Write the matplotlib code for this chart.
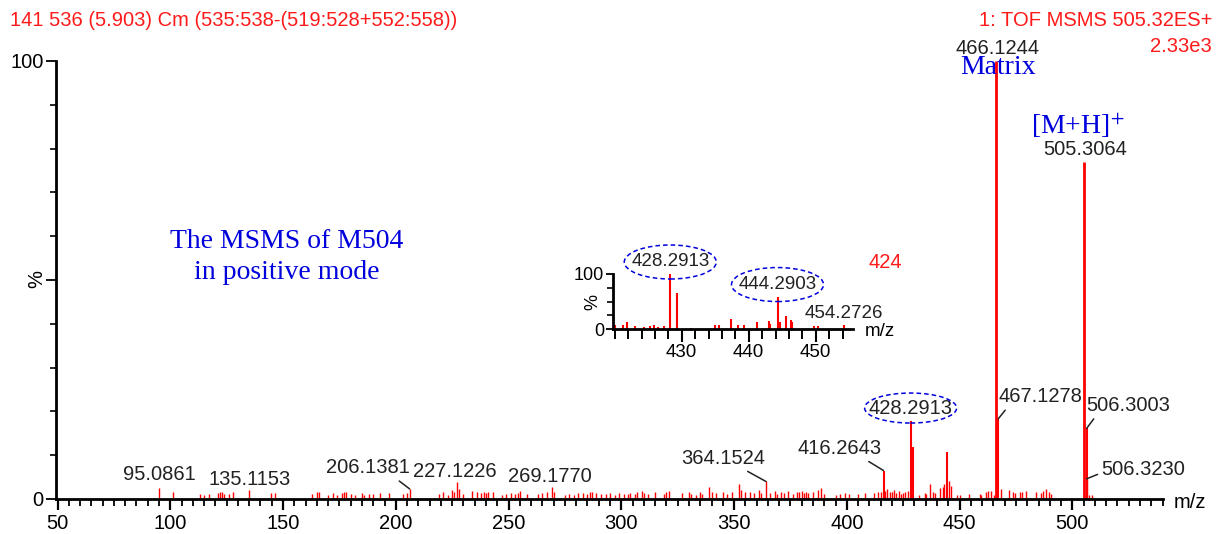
import matplotlib
matplotlib.use('Agg')
import matplotlib.pyplot as plt
from matplotlib.patches import Ellipse
from matplotlib.ticker import MultipleLocator, FixedLocator
from matplotlib.transforms import IdentityTransform

plt.rcParams['font.family'] = ['Liberation Sans', 'DejaVu Sans']

# ---------------- data ----------------
peak_mz = [95.0861, 101, 113, 115, 117, 121, 122, 123, 124, 126, 128, 135.1153, 144.5, 146.5,
           163, 165, 166, 170, 172, 174, 176, 177, 178, 180, 182, 185, 186, 188, 190, 193, 197,
           203, 205, 206.1381,
           219, 221, 223, 225, 226, 227.1226, 228, 230, 234, 236, 238, 239, 240, 241, 243, 247,
           249, 251, 253, 254, 255, 258, 263, 265, 267, 269.1770, 270, 275, 277, 279, 281, 283,
           285, 286, 287, 289, 291, 293, 295, 297, 299,
           301, 303, 304, 306, 307, 309, 310, 312, 315, 319, 320, 321, 327, 330, 331, 333, 335,
           336, 338.7, 340, 342, 345, 347, 349, 352, 353, 355, 357, 359, 361, 362, 364.1524,
           366, 368, 369, 371, 372, 374, 376, 378, 379, 380, 381, 382, 383, 385, 387, 388.5,
           390, 395, 397, 399, 401, 405, 408, 412, 414, 415, 416.2643, 417, 418, 419, 420, 421,
           422, 423, 424, 425, 426, 427, 428.2913, 429.29,
           432, 434.5, 435.2, 437.1, 438, 439.3, 441.1, 442.6, 443.3, 444.2903, 445.3, 446.4,
           449, 450, 454.27, 458.9, 459.6, 461.8, 462.8, 463.8, 465.4, 466.1244, 467.1278,
           468.5, 472, 473.5, 474.7, 476.6, 477.8, 479.6, 484, 486, 487, 488.5, 489.5, 490.7,
           505.3064, 506.3003, 506.3230, 507.4, 508.9]
peak_int = [2.6, 1.5, 1.1, 1.0, 1.1, 1.3, 1.6, 1.5, 1.2, 1.2, 1.5, 2.0, 1.4, 1.4,
            1.1, 1.5, 1.6, 1.0, 1.3, 1.0, 1.3, 1.6, 1.5, 1.2, 0.8, 1.3, 1.0, 1.1, 1.2, 1.3, 1.4,
            1.1, 1.3, 2.3,
            1.2, 1.5, 1.0, 2.0, 1.6, 3.8, 2.2, 1.2, 1.8, 1.5, 1.4, 1.6, 1.3, 1.6, 1.7, 1.0,
            1.2, 1.4, 1.1, 1.4, 1.8, 1.2, 1.2, 1.3, 1.5, 2.7, 1.5, 1.0, 1.1, 1.0, 1.3, 1.4,
            1.2, 1.5, 1.6, 1.3, 1.2, 1.1, 1.4, 1.0, 1.3,
            1.2, 1.1, 1.3, 1.2, 1.5, 1.8, 1.3, 1.2, 1.6, 1.2, 1.7, 1.9, 1.4, 1.5, 1.2, 1.0, 1.7,
            1.2, 2.7, 1.5, 1.3, 1.5, 1.2, 1.6, 3.5, 2.0, 1.5, 1.7, 1.3, 2.0, 1.4, 4.0,
            1.4, 1.9, 1.2, 1.6, 1.3, 1.8, 1.2, 1.5, 1.7, 1.9, 1.4, 1.6, 1.3, 1.5, 2.0, 2.5,
            1.2, 1.0, 1.2, 1.4, 1.1, 1.2, 1.3, 1.4, 1.5, 1.5, 6.5, 1.8, 2.2, 1.6, 1.5, 2.0,
            1.4, 1.8, 1.2, 1.4, 1.7, 1.8, 17.8, 11.8,
            0.8, 1.4, 1.2, 3.4, 1.5, 1.4, 2.4, 2.7, 3.4, 10.8, 4.2, 3.0,
            1.0, 0.9, 1.2, 1.2, 0.9, 1.6, 1.9, 1.9, 1.0, 100.0, 18.3,
            2.3, 2.1, 1.5, 1.4, 1.5, 1.5, 1.9, 1.5, 1.4, 1.9, 2.3, 1.5, 1.2,
            77.0, 16.1, 4.6, 1.0, 0.8]

label_mz = [95.0861, 135.1153, 206.1381, 227.1226, 269.1770, 364.1524, 416.2643,
            428.2913, 466.1244, 467.1278, 505.3064, 506.3003, 506.3230]

inset_mz = [420.1, 421.3, 421.8, 423.1, 424.3, 425.2, 425.9, 426.5, 427.4, 428.2913, 429.3,
            431.4, 435.0, 435.5, 437.3, 438.4, 439.3, 441.2, 443.0, 443.2, 444.2903, 444.6,
            445.6, 446.3, 446.5, 449.7, 450.3, 454.2726]
inset_int = [8, 8, 12, 5, 3, 5, 8, 3, 6, 100, 65,
             2, 8, 8, 19, 8, 7, 12, 14, 10, 59, 12,
             24, 16, 12, 6, 6, 7]
inset_label_mz = [428.2913, 444.2903, 454.2726]

x_ticks = [50, 100, 150, 200, 250, 300, 350, 400, 450, 500]
inset_x_ticks = [430, 440, 450]

# ---------------- layout ----------------
W, H = 1216, 534
fig = plt.figure(figsize=(W / 100, H / 100), dpi=100)
RED = '#ff1a1a'
BLUE = '#0000dd'
FS = 14.5


def fig_box(l, t, r, b):
    return [l / W, 1 - b / H, (r - l) / W, (b - t) / H]


ax = fig.add_axes(fig_box(56, 61, 1163, 499))
ax.set_xlim(49.33, 540.2)
ax.set_ylim(0, 100)
lws = [2.0 if v > 50 else (1.5 if v > 5 else 1.0) for v in peak_int]
ax.vlines(peak_mz, 0, peak_int, colors='red', linewidths=lws, clip_on=False, zorder=2)

for s in ['top', 'right']:
    ax.spines[s].set_visible(False)
for s in ['left', 'bottom']:
    ax.spines[s].set_linewidth(2.0)
ax.xaxis.set_major_locator(FixedLocator(x_ticks))
ax.xaxis.set_minor_locator(MultipleLocator(5))
ax.yaxis.set_major_locator(FixedLocator([0, 50, 100]))
ax.yaxis.set_minor_locator(MultipleLocator(10))
ax.set_yticklabels(['0', '', '100'])
ax.tick_params(axis='x', which='major', direction='out', length=8, width=1.6,
               labelsize=FS, pad=3)
ax.tick_params(axis='x', which='minor', direction='out', length=5, width=1.3)
ax.tick_params(axis='y', which='major', direction='out', length=7, width=1.3,
               labelsize=FS, pad=2)
ax.tick_params(axis='y', which='minor', direction='out', length=4, width=1.2)
fig.text(37 / W, 1 - 279 / H, '%', rotation=90, ha='center', va='center', fontsize=FS)
fig.text(1190 / W, 1 - 503 / H, 'm/z', ha='center', va='center', fontsize=FS)

# label offsets in pixels (dx, dy) and optional leader relpos
label_layout = {
    95.0861: (0, 13, None),
    135.1153: (0, 11, None),
    206.1381: (-42, 21, (0.82, 0.0)),
    227.1226: (-2, 11, None),
    269.1770: (-2, 11, None),
    364.1524: (-43, 23, (0.72, 0.0)),
    416.2643: (-44, 22, (0.78, 0.0)),
    428.2913: (0, 13, None),
    466.1244: (2, 13, None),
    467.1278: (42, 22, (0.12, 0.0)),
    505.3064: (1, 12, None),
    506.3003: (42, 23, (0.12, 0.0)),
    506.3230: (57, 9, (0.0, 0.35)),
}
mz_to_int = dict(zip(peak_mz, peak_int))
for m in label_mz:
    dx, dy, rel = label_layout[m]
    h = mz_to_int[m]
    kw = {}
    if rel is not None:
        kw['arrowprops'] = dict(arrowstyle='-', color='#222222', lw=1.1, relpos=rel,
                                shrinkA=1, shrinkB=0)
    ax.annotate(f'{m:.4f}', xy=(m, h), xytext=(dx, dy), textcoords='offset pixels',
                ha='center', va='center', fontsize=FS, color='#222222',
                annotation_clip=False, **kw)

fig.canvas.draw()
# ellipse around main 428.2913 label
px, py = ax.transData.transform((428.2913, mz_to_int[428.2913]))
fig.add_artist(Ellipse((px, py + 13), 92, 30, transform=IdentityTransform(), fill=False,
                       ec=BLUE, lw=1.1, ls=(0, (3, 2))))

# ---------------- inset ----------------
axi = fig.add_axes(fig_box(612.7, 274, 853.3, 329))
axi.set_xlim(419.7, 455.6)
axi.set_ylim(0, 100)
axi.vlines(inset_mz, 0, inset_int, colors='red', linewidths=1.5, clip_on=False)
for s in ['top', 'right']:
    axi.spines[s].set_visible(False)
for s in ['left', 'bottom']:
    axi.spines[s].set_linewidth(2.0)
axi.xaxis.set_major_locator(FixedLocator(inset_x_ticks))
axi.xaxis.set_minor_locator(MultipleLocator(2))
axi.yaxis.set_major_locator(FixedLocator([0, 100]))
axi.yaxis.set_minor_locator(MultipleLocator(25))
axi.tick_params(axis='x', which='major', length=9, width=1.5, labelsize=13.5, pad=2)
axi.tick_params(axis='x', which='minor', length=7, width=1.4)
axi.tick_params(axis='y', which='major', length=5, width=1.3, labelsize=13, pad=1)
axi.tick_params(axis='y', which='minor', length=4, width=1.2)
fig.text(593 / W, 1 - 302 / H, '%', rotation=90, ha='center', va='center', fontsize=13)
fig.text(880 / W, 1 - 332 / H, 'm/z', ha='center', va='center', fontsize=13.5)

inset_map = dict(zip(inset_mz, inset_int))
inset_layout = {428.2913: (0, 12), 444.2903: (0, 12), 454.2726: (-1, 12)}
for m in inset_label_mz:
    dx, dy = inset_layout[m]
    axi.annotate(f'{m:.4f}', xy=(m, inset_map[m]), xytext=(dx, dy),
                 textcoords='offset pixels', ha='center', va='center', fontsize=13.5,
                 color='#222222', annotation_clip=False)
fig.canvas.draw()
for m in [428.2913, 444.2903]:
    px, py = axi.transData.transform((m, inset_map[m]))
    fig.add_artist(Ellipse((px, py + 12), 92, 34, transform=IdentityTransform(),
                           fill=False, ec=BLUE, lw=1.1, ls=(0, (3, 2))))

# ---------------- header / annotation texts ----------------
fig.text(10 / W, 1 - 20 / H, '141 536 (5.903) Cm (535:538-(519:528+552:558))',
         ha='left', va='center', fontsize=FS, color=RED)
fig.text(1212 / W, 1 - 20 / H, '1: TOF MSMS 505.32ES+', ha='right', va='center',
         fontsize=FS, color=RED)
fig.text(1212 / W, 1 - 47 / H, '2.33e3', ha='right', va='center', fontsize=FS, color=RED)
fig.text(885 / W, 1 - 262 / H, '424', ha='center', va='center', fontsize=FS, color=RED)

fig.text(287 / W, 1 - 257 / H, 'The MSMS of M504\nin positive mode', ha='center',
         va='center', fontsize=20, color=BLUE, family='Liberation Serif', linespacing=1.35)
fig.text(998 / W, 1 - 68 / H, 'Matrix', ha='center', va='center', fontsize=20, color=BLUE,
         family='Liberation Serif')
fig.text(1078 / W, 1 - 126 / H, r'[M+H]$^{+}$', ha='center', va='center', fontsize=20,
         color=BLUE, family='Liberation Serif', math_fontfamily='stix')

fig.savefig('out.png', dpi=100)
